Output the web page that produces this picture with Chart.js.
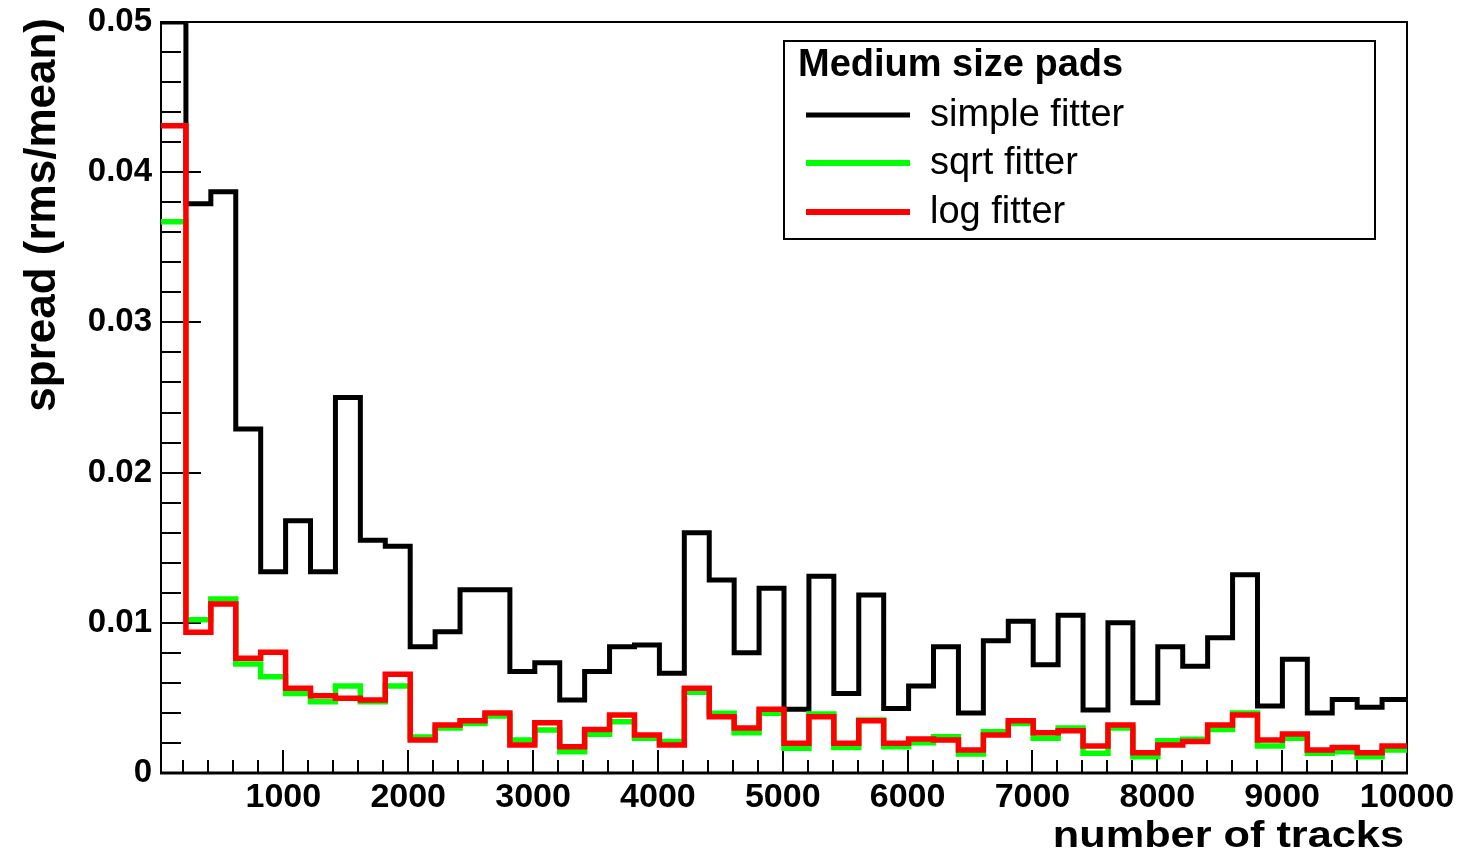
<!DOCTYPE html>
<html>
<head>
<meta charset="utf-8">
<title>spread vs number of tracks</title>
<script src="https://cdn.jsdelivr.net/npm/chart.js@4.4.1/dist/chart.umd.min.js"></script>
<style>
html, body { margin: 0; padding: 0; background: #fff; }
#wrap { width: 1464px; height: 856px; }
</style>
</head>
<body>
<div id="wrap"><canvas id="spread_chart" width="1464" height="856"></canvas></div>
<script>
// histogram binning: 50 bins between 20 and 10000 tracks
const nBins = 50;
const binLow = 20;
const binHigh = 10000;

// spread (rms/mean) per bin
const simpleFitter = [0.05, 0.0379, 0.0387, 0.0229, 0.0134, 0.0168, 0.0134, 0.0250, 0.0155, 0.0151,
  0.0084, 0.0094, 0.0122, 0.0122, 0.00675, 0.00734, 0.00486, 0.00675, 0.0084, 0.00852,
  0.00664, 0.0160, 0.01285, 0.0080, 0.0123, 0.00424, 0.0131, 0.0053, 0.01185, 0.0043,
  0.0058, 0.0084, 0.0040, 0.0088, 0.0101, 0.0072, 0.0105, 0.0042, 0.0100, 0.00468,
  0.0084, 0.0071, 0.0090, 0.0132, 0.00446, 0.00757, 0.0040, 0.0049, 0.00437, 0.0049];
const sqrtFitter = [0.0367, 0.0102, 0.01158, 0.00726, 0.0064, 0.0053, 0.00475, 0.0058, 0.00475, 0.0058,
  0.0024, 0.0030, 0.0033, 0.0038, 0.0022, 0.00286, 0.00142, 0.00258, 0.00342, 0.00231,
  0.00209, 0.00537, 0.00397, 0.00268, 0.00397, 0.00164, 0.00393, 0.00169, 0.00353, 0.00175,
  0.00202, 0.00242, 0.00126, 0.00275, 0.0033, 0.00231, 0.0030, 0.00131, 0.0030, 0.00109,
  0.00215, 0.00224, 0.0029, 0.0040, 0.0018, 0.00231, 0.00131, 0.00142, 0.00109, 0.00153];
const logFitter = [0.0431, 0.00937, 0.01125, 0.00764, 0.00804, 0.00564, 0.00515, 0.00497, 0.00486, 0.00657,
  0.0022, 0.0032, 0.00348, 0.0040, 0.00186, 0.00335, 0.00175, 0.0029, 0.00386, 0.00253,
  0.00186, 0.00564, 0.00375, 0.0030, 0.00424, 0.00198, 0.00375, 0.00198, 0.00348, 0.00198,
  0.00226, 0.0022, 0.00153, 0.00253, 0.00348, 0.00268, 0.00282, 0.0018, 0.0032, 0.00135,
  0.00186, 0.00209, 0.0032, 0.00386, 0.0022, 0.0026, 0.00153, 0.00169, 0.00135, 0.0018];

const xTickValues = [1000, 2000, 3000, 4000, 5000, 6000, 7000, 8000, 9000, 10000];
const yTickValues = [0, 0.01, 0.02, 0.03, 0.04, 0.05];
const legendTitle = 'Medium size pads';
const seriesNames = ['simple fitter', 'sqrt fitter', 'log fitter'];
const seriesColors = ['#000000', '#00ff00', '#ff0000'];
const xTitle = 'number of tracks';
const yTitle = 'spread (rms/mean)';

const FONT = '"Liberation Sans", Arial, Helvetica, sans-serif';
const binWidth = (binHigh - binLow) / nBins;

// bin low edges + closing point at the upper edge, drawn as steps
function histPoints(values) {
  const pts = values.map((v, i) => ({ x: binLow + i * binWidth, y: v }));
  pts.push({ x: binHigh, y: values[values.length - 1] });
  return pts;
}

// ROOT style frame + inward ticks
const framePlugin = {
  id: 'frame',
  beforeDatasetsDraw(chart) {
    const { ctx, chartArea: a, scales } = chart;
    ctx.save();
    ctx.strokeStyle = '#000';
    ctx.lineWidth = 2;
    ctx.strokeRect(a.left, a.top, a.right - a.left, a.bottom - a.top);
    ctx.lineWidth = 3;
    ctx.beginPath();
    ctx.moveTo(a.left - 1, a.bottom);
    ctx.lineTo(a.right + 1, a.bottom);
    ctx.stroke();
    ctx.lineWidth = 2;
    ctx.beginPath();
    // y ticks every 0.002, long on 0.01
    for (let k = 1; k < 25; k++) {
      const v = k * 0.002;
      const y = Math.round(scales.y.getPixelForValue(v));
      const len = k % 5 === 0 ? 40 : 20;
      ctx.moveTo(a.left, y);
      ctx.lineTo(a.left + len, y);
    }
    // x ticks every 200, long on 1000
    for (let k = 1; k < 50; k++) {
      const v = k * 200;
      const x = Math.round(scales.x.getPixelForValue(v));
      const len = k % 5 === 0 ? 23 : 13;
      ctx.moveTo(x, a.bottom);
      ctx.lineTo(x, a.bottom - len);
    }
    ctx.stroke();
    ctx.restore();
  },
  afterDraw(chart) {
    const { ctx, chartArea: a } = chart;
    ctx.save();
    ctx.fillStyle = '#000';
    // axis titles
    ctx.font = 'bold 44px ' + FONT;
    ctx.textBaseline = 'middle';
    ctx.textAlign = 'right';
    ctx.save();
    ctx.translate(43, 18);
    ctx.rotate(-Math.PI / 2);
    ctx.fillText(yTitle, 0, 0);
    ctx.restore();

    ctx.font = 'bold 37px ' + FONT;
    ctx.textBaseline = 'alphabetic';
    ctx.save();
    ctx.translate(a.right - 3, 847);
    ctx.scale(1.17, 1);
    ctx.fillText(xTitle, 0, 0);
    ctx.restore();

    // legend box
    ctx.fillStyle = '#fff';
    ctx.fillRect(784, 41, 591, 198);
    ctx.strokeStyle = '#000';
    ctx.lineWidth = 2;
    ctx.strokeRect(784, 41, 591, 198);
    ctx.fillStyle = '#000';
    ctx.textAlign = 'left';
    ctx.textBaseline = 'middle';
    ctx.font = 'bold 38px ' + FONT;
    ctx.fillText(legendTitle, 798, 66);
    ctx.font = '38px ' + FONT;
    const rows = [115, 163, 212];
    seriesNames.forEach((name, i) => {
      ctx.strokeStyle = seriesColors[i];
      ctx.lineWidth = i === 0 ? 5 : 6;
      ctx.beginPath();
      ctx.moveTo(806, rows[i]);
      ctx.lineTo(910, rows[i]);
      ctx.stroke();
      ctx.fillText(name, 930, rows[i] + 1);
    });
    ctx.restore();
  }
};

const seriesValues = [simpleFitter, sqrtFitter, logFitter];
const datasets = seriesValues.map((vals, i) => ({
  label: seriesNames[i],
  data: histPoints(vals),
  borderColor: seriesColors[i],
  backgroundColor: seriesColors[i],
  borderWidth: i === 0 ? 5 : 5.5,
  stepped: true,
  fill: false,
  pointRadius: 0,
  tension: 0,
  order: 2 - i // red on top, then green, then black
}));

const spread_ctx = document.getElementById('spread_chart').getContext('2d');
const spread_chart = new Chart(spread_ctx, {
  type: 'line',
  data: { datasets: datasets },
  options: {
    responsive: false,
    devicePixelRatio: 1,
    animation: false,
    layout: { padding: { left: 0, right: 57, top: 22, bottom: 0 } },
    plugins: {
      legend: { display: false },
      tooltip: { enabled: false }
    },
    scales: {
      x: {
        type: 'linear',
        min: binLow,
        max: binHigh,
        grid: { display: false, drawTicks: false },
        border: { display: false },
        afterBuildTicks: s => { s.ticks = xTickValues.map(v => ({ value: v })); },
        afterFit: s => { s.height = 83; s.paddingLeft = 0; s.paddingRight = 0; },
        ticks: {
          autoSkip: false,
          maxRotation: 0,
          padding: 4,
          color: '#000',
          font: { family: FONT, weight: 'bold', size: 34 },
          callback: v => String(v)
        }
      },
      y: {
        min: 0,
        max: 0.05,
        grid: { display: false, drawTicks: false },
        border: { display: false },
        afterBuildTicks: s => { s.ticks = yTickValues.map(v => ({ value: v })); },
        afterFit: s => { s.width = 161; s.paddingTop = 0; s.paddingBottom = 0; },
        ticks: {
          padding: 9,
          color: '#000',
          font: { family: FONT, weight: 'bold', size: 33 },
          callback: v => (v === 0 ? '0' : v.toFixed(2))
        }
      }
    }
  },
  plugins: [framePlugin]
});
</script>
</body>
</html>
